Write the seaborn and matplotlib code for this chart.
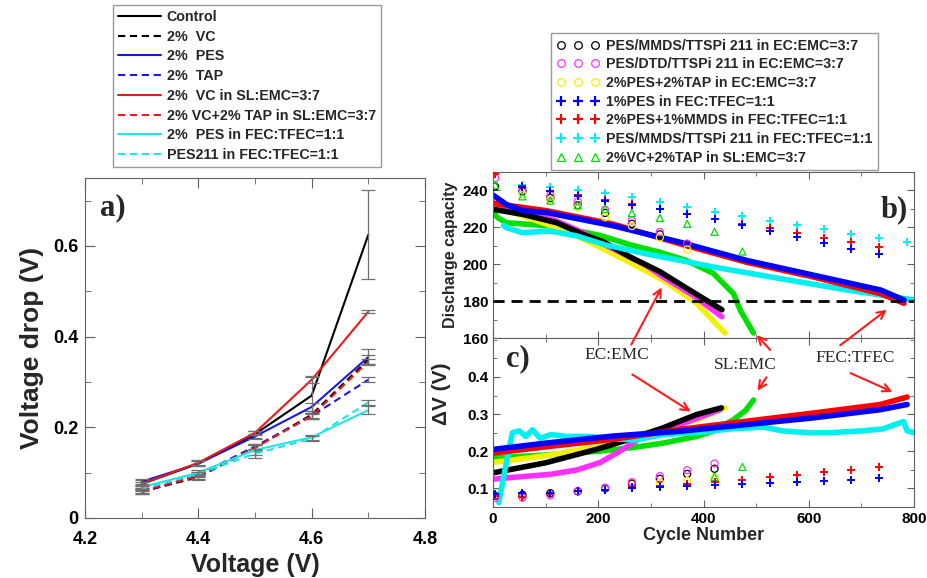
import matplotlib
matplotlib.use("Agg")
import matplotlib.pyplot as plt
import seaborn as sns
from matplotlib.lines import Line2D
from matplotlib.patches import FancyArrowPatch
from matplotlib.ticker import MultipleLocator, FuncFormatter

# ---------------- panel a : voltage drop vs upper cut-off voltage ----------------
voltage = [4.3, 4.4, 4.5, 4.6, 4.7]
a_labels = ["Control", "2%  VC", "2%  PES", "2%  TAP", "2%  VC in SL:EMC=3:7",
            "2% VC+2% TAP in SL:EMC=3:7", "2%  PES in FEC:TFEC=1:1", "PES211 in FEC:TFEC=1:1"]
a_colors = ["black", "black", "#1a1ad6", "#1a1ad6", "#e61c1c", "#e61c1c", "#22e6e6", "#22e6e6"]
a_dashed = [False, True, False, True, False, True, False, True]
drop_control = [0.075, 0.120, 0.185, 0.270, 0.625]
drop_vc = [0.058, 0.090, 0.155, 0.228, 0.350]
drop_pes = [0.080, 0.120, 0.180, 0.245, 0.355]
drop_tap = [0.057, 0.095, 0.158, 0.225, 0.305]
drop_vc_sl = [0.075, 0.122, 0.188, 0.305, 0.455]
drop_vctap_sl = [0.060, 0.092, 0.155, 0.225, 0.345]
drop_pes_fec = [0.068, 0.100, 0.150, 0.178, 0.238]
drop_pes211_fec = [0.065, 0.097, 0.142, 0.175, 0.255]
err_control = [0.008, 0.006, 0.008, 0.040, 0.098]
err_vc = [0.006, 0.006, 0.008, 0.008, 0.010]
err_pes = [0.006, 0.005, 0.006, 0.008, 0.018]
err_tap = [0.005, 0.005, 0.006, 0.006, 0.006]
err_vc_sl = [0.005, 0.005, 0.005, 0.008, 0.003]
err_vctap_sl = [0.005, 0.005, 0.006, 0.006, 0.006]
err_pes_fec = [0.005, 0.005, 0.010, 0.006, 0.008]
err_pes211_fec = [0.005, 0.005, 0.010, 0.006, 0.006]
a_values = [drop_control, drop_vc, drop_pes, drop_tap, drop_vc_sl, drop_vctap_sl,
            drop_pes_fec, drop_pes211_fec]
a_errors = [err_control, err_vc, err_pes, err_tap, err_vc_sl, err_vctap_sl,
            err_pes_fec, err_pes211_fec]

# ---------------- panels b/c : cycling ----------------
b_labels = ["PES/MMDS/TTSPi 211 in EC:EMC=3:7", "PES/DTD/TTSPi 211 in EC:EMC=3:7",
            "2%PES+2%TAP in EC:EMC=3:7", "1%PES in FEC:TFEC=1:1",
            "2%PES+1%MMDS in FEC:TFEC=1:1", "PES/MMDS/TTSPi 211 in FEC:TFEC=1:1",
            "2%VC+2%TAP in SL:EMC=3:7"]
b_colors = ["black", "#ff30ff", "#f2f200", "#0000ff", "#ff0000", "#00f0f0", "#00e000"]
b_markers = ["o", "o", "o", "+", "+", "+", "^"]

# discharge capacity curves (cycle, capacity)
cyc_black = [0, 57, 121, 171, 213, 260, 317, 368, 435]
cap_black = [229.8, 227, 222.5, 216.2, 211.7, 204, 196, 187, 175.3]
cyc_mag = [0, 57, 121, 171, 204, 236, 290, 324, 381, 435]
cap_mag = [233.3, 228.7, 223.4, 217.1, 211.7, 207.3, 199.5, 193, 183, 171.5]
cyc_yel = [0, 102, 165, 210, 260, 324, 387, 441]
cap_yel = [231.6, 221.7, 214.6, 208.3, 201, 191.3, 178.8, 162.7]
cyc_grn = [0, 10, 26, 121, 205, 261, 317, 368, 419, 457, 470, 495]
cap_grn = [228, 225, 222.5, 220.5, 215.5, 210.5, 206.5, 202, 195, 184, 175, 162.7]
cyc_cya = [20, 26, 56, 109, 160, 213, 292, 419, 546, 673, 800]
cap_cya = [221, 219.8, 217.1, 218, 215.3, 210.5, 205.6, 198.5, 192.2, 186, 180.6]
cyc_red = [0, 102, 229, 356, 483, 610, 737, 781]
cap_red = [233, 229, 221.7, 211, 201, 193, 184, 178.8]
cyc_blu = [0, 26, 57, 102, 229, 356, 483, 610, 737, 781]
cap_blu = [237.5, 232.3, 229, 228, 220.8, 211.9, 202, 194, 186, 180.6]

# delta V curves
dv_cyc_black = [0, 100, 196, 259, 323, 387, 434]
dv_black = [0.142, 0.169, 0.205, 0.232, 0.263, 0.299, 0.317]
dv_cyc_mag = [0, 57, 109, 160, 204, 236, 291, 355, 431]
dv_mag = [0.125, 0.132, 0.138, 0.150, 0.170, 0.196, 0.245, 0.272, 0.312]
dv_cyc_yel = [0, 100, 196, 291, 387, 441]
dv_yel = [0.170, 0.188, 0.212, 0.250, 0.285, 0.317]
dv_cyc_grn = [0, 100, 200, 266, 323, 387, 420, 457, 480, 495]
dv_grn = [0.182, 0.190, 0.200, 0.210, 0.222, 0.240, 0.255, 0.285, 0.310, 0.338]
dv_cyc_cya = [11, 24, 37, 50, 62, 75, 90, 110, 140, 180, 220, 270, 323, 387, 450,
              514, 550, 600, 640, 700, 740, 770, 780, 787, 800]
dv_cya = [0.062, 0.160, 0.250, 0.255, 0.240, 0.258, 0.235, 0.245, 0.240, 0.240, 0.235,
          0.230, 0.245, 0.250, 0.260, 0.265, 0.255, 0.250, 0.250, 0.255, 0.260, 0.275,
          0.280, 0.255, 0.250]
dv_cyc_red = [0, 100, 228, 355, 482, 609, 736, 787]
dv_red = [0.195, 0.212, 0.232, 0.259, 0.281, 0.303, 0.326, 0.346]
dv_cyc_blu = [0, 100, 228, 355, 482, 609, 736, 787]
dv_blu = [0.205, 0.222, 0.241, 0.254, 0.272, 0.290, 0.312, 0.326]

# sparse check-up points
sp_cyc = [4, 56, 109, 161, 213, 264, 317, 369, 421, 474, 526, 578, 629, 681, 734, 786]
sp_cap_black = [242.1, 239.5, 235.9, 232, 227.8, 221.9, 216.2, 210.9]
sp_cap_mag = [246.6, 241, 237.5, 234.1, 229.6, 223.7, 217.5, 211.2]
sp_cap_yel = [238, 235, 230.9, 225.5, 220.7, 214.5, 208]
sp_cap_blu = [242.1, 239.5, 237.2, 234.5, 232.3, 229.7, 227, 224.3, 221.2, 218, 215,
              211.7, 208.5, 205.5]
sp_cap_red = [249, 242.5, 239.8, 237.5, 234.8, 232.5, 230, 227.3, 224.3, 221.6, 219.5,
              217.1, 214.4, 212.1, 209.4]
sp_cap_cya = [243.1, 242.1, 240.4, 238.6, 236.2, 233.7, 231, 228.4, 225.9, 223.4, 221.2,
              218.9, 216.6, 214.4, 212.3]
sp_cap_grn = [243, 236.8, 234.5, 232, 230, 227.8, 225.1, 221.9, 217.6, 206.9]
sp_dv_black = [0.080, 0.083, 0.087, 0.092, 0.100, 0.113, 0.126, 0.139, 0.153]
sp_dv_mag = [0.075, 0.075, 0.081, 0.093, 0.102, 0.117, 0.133, 0.149, 0.167]
sp_dv_yel = [0.115, 0.120, 0.129]
sp_dv_blu = [0.085, 0.087, 0.088, 0.092, 0.096, 0.100, 0.104, 0.107, 0.109, 0.111, 0.115,
             0.117, 0.120, 0.124, 0.127]
sp_dv_red = [0.080, 0.078, 0.085, 0.092, 0.097, 0.103, 0.107, 0.112, 0.117, 0.122, 0.130,
             0.137, 0.144, 0.149, 0.157]
sp_dv_grn = [0.131, 0.158]

sns.set_style("ticks")
plt.rcParams['font.family'] = ['Liberation Sans', 'DejaVu Sans']
plt.rcParams['font.weight'] = 'bold'
plt.rcParams['axes.labelweight'] = 'bold'
plt.rcParams['axes.edgecolor'] = '#606060'
plt.rcParams['xtick.color'] = '#606060'
plt.rcParams['ytick.color'] = '#606060'
plt.rcParams['xtick.labelcolor'] = 'black'
plt.rcParams['ytick.labelcolor'] = 'black'

W, H = 927, 578
fig = plt.figure(figsize=(W / 100, H / 100), dpi=100)
ax_a = fig.add_axes([85 / W, 1 - 518 / H, 340 / W, 340 / H])
ax_b = fig.add_axes([493 / W, 1 - 338 / H, 421 / W, 166 / H])
ax_c = fig.add_axes([493 / W, 1 - 507 / H, 421 / W, 169 / H])

DASH = (0, (3.5, 2.2))

# ---- panel a
for vals, err, col, dsh in zip(a_values, a_errors, a_colors, a_dashed):
    sns.lineplot(x=voltage, y=vals, ax=ax_a, color=col, lw=1.5,
                 linestyle=DASH if dsh else '-')
    ax_a.errorbar(voltage, vals, yerr=err, fmt='none', ecolor='#707070',
                  elinewidth=0.9, capsize=5, capthick=0.9)
ax_a.set_xlim(4.2, 4.8)
ax_a.set_ylim(0, 0.75)
ax_a.xaxis.set_major_locator(MultipleLocator(0.2))
ax_a.xaxis.set_minor_locator(MultipleLocator(0.1))
ax_a.yaxis.set_major_locator(MultipleLocator(0.2))
ax_a.yaxis.set_minor_locator(MultipleLocator(0.1))
ax_a.xaxis.set_major_formatter(FuncFormatter(lambda v, p: f"{v:.1f}"))
ax_a.yaxis.set_major_formatter(FuncFormatter(lambda v, p: "0" if abs(v) < 1e-9 else f"{v:.1f}"))
ax_a.tick_params(which='both', direction='in', top=True, right=True, labelsize=13)
ax_a.tick_params(which='major', length=7)
ax_a.tick_params(which='minor', length=4)
ax_a.tick_params(axis='x', pad=9)
ax_a.tick_params(axis='y', pad=5)
ax_a.set_xlabel("Voltage (V)", fontsize=18, labelpad=4)
ax_a.set_ylabel("Voltage drop (V)", fontsize=19, labelpad=6)
ax_a.text(0.045, 0.955, "a)", transform=ax_a.transAxes, fontsize=22, weight='bold',
          family=['Liberation Serif'], va='top', ha='left')

# ---- panels b and c
b_curves = [(cyc_grn, cap_grn, b_colors[6]), (cyc_yel, cap_yel, b_colors[2]),
            (cyc_mag, cap_mag, b_colors[1]), (cyc_black, cap_black, b_colors[0]),
            (cyc_cya, cap_cya, b_colors[5]), (cyc_red, cap_red, b_colors[4]),
            (cyc_blu, cap_blu, b_colors[3])]
c_curves = [(dv_cyc_grn, dv_grn, b_colors[6]), (dv_cyc_yel, dv_yel, b_colors[2]),
            (dv_cyc_mag, dv_mag, b_colors[1]), (dv_cyc_black, dv_black, b_colors[0]),
            (dv_cyc_cya, dv_cya, b_colors[5]), (dv_cyc_red, dv_red, b_colors[4]),
            (dv_cyc_blu, dv_blu, b_colors[3])]
for ax, curves in ((ax_b, b_curves), (ax_c, c_curves)):
    for xs, ys, col in curves:
        sns.lineplot(x=xs, y=ys, ax=ax, color=col, lw=4, sort=False,
                     solid_capstyle='round')

ax_b.axhline(180, color='black', lw=2, linestyle=(0, (4, 2.5)), zorder=5)


def sparse(ax, xs, ys, col, mk):
    if mk == '+':
        sns.scatterplot(x=xs, y=ys, ax=ax, marker='+', color=col, s=40, linewidth=1.4,
                        zorder=6)
    else:
        sns.scatterplot(x=xs, y=ys, ax=ax, marker=mk, facecolor='none', edgecolor=col,
                        s=26, linewidth=0.9, zorder=6)


sparse(ax_b, sp_cyc[:8], sp_cap_black, b_colors[0], 'o')
sparse(ax_b, sp_cyc[:8], sp_cap_mag, b_colors[1], 'o')
sparse(ax_b, sp_cyc[1:8], sp_cap_yel, b_colors[2], 'o')
sparse(ax_b, sp_cyc[:10], sp_cap_grn, b_colors[6], '^')
sparse(ax_b, sp_cyc[1:], sp_cap_cya, b_colors[5], '+')
sparse(ax_b, [sp_cyc[0]] + sp_cyc[1:15], sp_cap_red, b_colors[4], '+')
sparse(ax_b, sp_cyc[1:15], sp_cap_blu, b_colors[3], '+')

sparse(ax_c, sp_cyc[:9], sp_dv_black, b_colors[0], 'o')
sparse(ax_c, sp_cyc[:9], sp_dv_mag, b_colors[1], 'o')
sparse(ax_c, sp_cyc[6:9], sp_dv_yel, b_colors[2], 'o')
sparse(ax_c, sp_cyc[8:10], sp_dv_grn, b_colors[6], '^')
sparse(ax_c, sp_cyc[:15], sp_dv_red, b_colors[4], '+')
sparse(ax_c, sp_cyc[:15], sp_dv_blu, b_colors[3], '+')

for ax in (ax_b, ax_c):
    ax.set_xlim(0, 800)
    ax.xaxis.set_major_locator(MultipleLocator(200))
    ax.xaxis.set_minor_locator(MultipleLocator(100))
    ax.tick_params(which='both', direction='in', top=True, right=True, labelsize=11)
    ax.tick_params(which='major', length=5)
    ax.tick_params(which='minor', length=3)
ax_b.set_ylim(160, 250)
ax_b.set_yticks([160, 180, 200, 220, 240])
ax_b.yaxis.set_minor_locator(MultipleLocator(10))
ax_b.tick_params(labelbottom=False)
ax_c.set_ylim(0.05, 0.505)
ax_c.set_yticks([0.1, 0.2, 0.3, 0.4])
ax_c.yaxis.set_minor_locator(MultipleLocator(0.05))
ax_c.yaxis.set_major_formatter(FuncFormatter(lambda v, p: f"{v:.1f}"))
ax_b.set_ylabel("Discharge capacity", fontsize=11.5, labelpad=3)
ax_c.set_ylabel("\u0394V (V)", fontsize=15)
ax_c.yaxis.set_label_coords(-0.1, 0.67)
ax_c.set_xlabel("Cycle Number", fontsize=13, labelpad=1)
ax_b.text(0.985, 0.86, "b)", transform=ax_b.transAxes, fontsize=22, weight='bold',
          family=['Liberation Serif'], va='top', ha='right')
ax_c.text(0.03, 0.965, "c)", transform=ax_c.transAxes, fontsize=22, weight='bold',
          family=['Liberation Serif'], va='top', ha='left')

# ---- legends
a_handles = [Line2D([], [], color=c, lw=1.5, linestyle=DASH if d else '-')
             for c, d in zip(a_colors, a_dashed)]
fig.legend(a_handles, a_labels, loc='upper left', bbox_to_anchor=(113 / W, 1 - 5 / H),
           borderaxespad=0, frameon=True, fancybox=False, edgecolor='#808080',
           fontsize=10.3, handlelength=3.0, handletextpad=0.4, labelspacing=0.4,
           borderpad=0.35)

b_handles = []
for c, m in zip(b_colors, b_markers):
    if m == '+':
        b_handles.append(Line2D([], [], ls='none', marker='+', color=c, ms=7, mew=1.6))
    else:
        b_handles.append(Line2D([], [], ls='none', marker=m, mfc='none', mec=c, ms=5.5,
                                mew=0.9))
fig.legend(b_handles, b_labels, loc='upper left', bbox_to_anchor=(551 / W, 1 - 33 / H),
           borderaxespad=0, frameon=True, fancybox=False, edgecolor='#808080',
           fontsize=10.2, numpoints=3, handlelength=3.0, handletextpad=0.5,
           labelspacing=0.33, borderpad=0.4)

# ---- annotations with red arrows
def fig_pt(x, y):
    return (x / W, 1 - y / H)


for txt, (tx, ty) in (("EC:EMC", (617, 355)), ("SL:EMC", (745, 365)),
                      ("FEC:TFEC", (855, 358))):
    fig.text(*fig_pt(tx, ty), txt, ha='center', va='center', fontsize=12.5,
             weight='normal', family=['Liberation Serif'], zorder=10)

arrows = [((630, 347), (663, 285)), ((630, 373), (693, 413)),
          ((772, 352), (755, 333)), ((768, 375), (756, 393)),
          ((838, 347), (889, 308)), ((848, 372), (895, 393))]
for (x0, y0), (x1, y1) in arrows:
    fig.add_artist(FancyArrowPatch(fig_pt(x0, y0), fig_pt(x1, y1),
                                   transform=fig.transFigure, arrowstyle='->',
                                   mutation_scale=14, color='#ff1a1a', lw=1.5,
                                   zorder=10))

fig.savefig("out.png", dpi=100)
